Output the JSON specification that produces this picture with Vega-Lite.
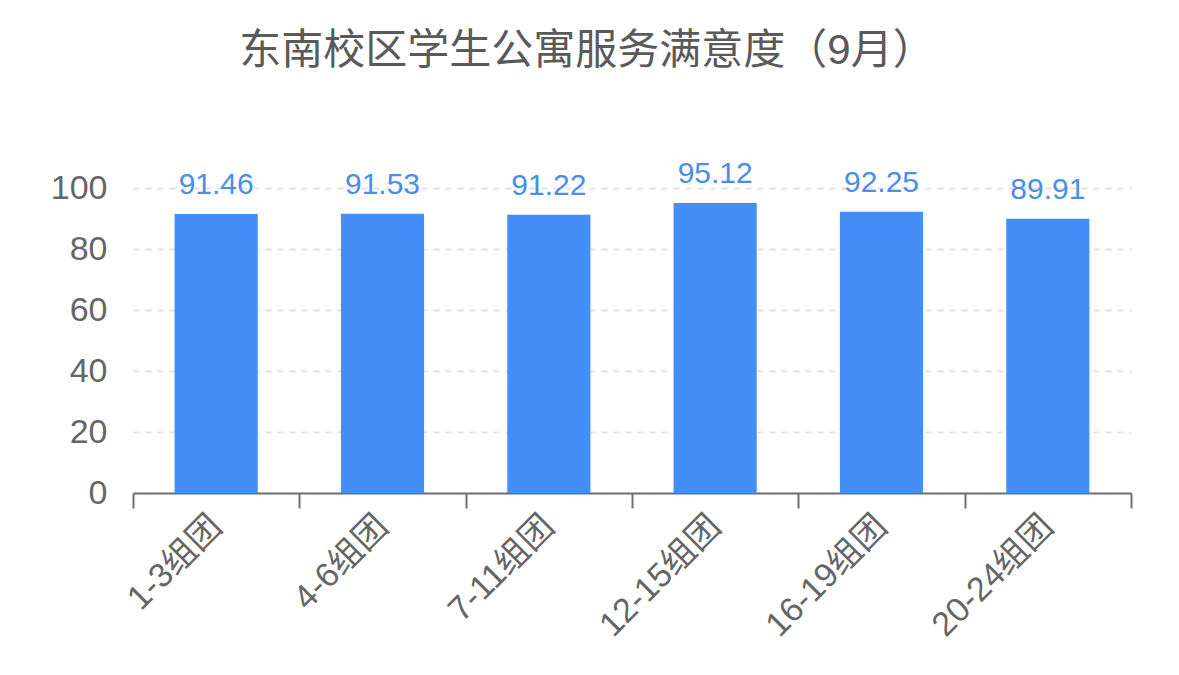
{
  "$schema": "https://vega.github.io/schema/vega-lite/v6.json",
  "autosize": {"type": "none"},
  "padding": {"left": 133, "top": 188, "right": 48, "bottom": 182},
  "width": 998,
  "height": 305,
  "background": "white",
  "title": {
    "text": "东南校区学生公寓服务满意度（9月）",
    "fontSize": 42,
    "fontWeight": "normal",
    "color": "#5a5a5a",
    "font": "Liberation Sans, Noto Sans CJK SC",
    "anchor": "middle",
    "frame": "group",
    "dx": -45,
    "offset": 86
  },
  "data": {
    "values": [
      {"group": "1-3组团", "score": 91.46},
      {"group": "4-6组团", "score": 91.53},
      {"group": "7-11组团", "score": 91.22},
      {"group": "12-15组团", "score": 95.12},
      {"group": "16-19组团", "score": 92.25},
      {"group": "20-24组团", "score": 89.91}
    ]
  },
  "encoding": {
    "x": {
      "field": "group",
      "type": "nominal",
      "sort": null,
      "title": null,
      "scale": {"paddingInner": 0, "paddingOuter": 0},
      "axis": {
        "tickBand": "extent",
        "domainColor": "#6e7079",
        "domainWidth": 2,
        "tickColor": "#6e7079",
        "tickWidth": 2,
        "tickSize": 15,
        "labelAngle": -45,
        "labelAlign": "right",
        "labelBaseline": "middle",
        "labelPadding": 13,
        "labelFontSize": 34,
        "labelColor": "#666666",
        "labelFont": "Liberation Sans, Noto Sans CJK SC",
        "grid": false
      }
    },
    "y": {
      "field": "score",
      "type": "quantitative",
      "title": null,
      "scale": {"domain": [0, 100], "nice": false},
      "axis": {
        "values": [0, 20, 40, 60, 80, 100],
        "domain": false,
        "ticks": false,
        "labelPadding": 26,
        "labelFontSize": 34,
        "labelColor": "#666666",
        "labelFont": "Liberation Sans",
        "grid": true,
        "gridColor": "#e3e3e3",
        "gridWidth": 2,
        "gridDash": [6, 6]
      }
    }
  },
  "layer": [
    {
      "mark": {"type": "bar", "color": "#448ef7", "width": {"band": 0.5}}
    },
    {
      "mark": {
        "type": "text",
        "color": "#4a8ee8",
        "fontSize": 30,
        "font": "Liberation Sans",
        "baseline": "alphabetic",
        "dy": -20
      },
      "encoding": {"text": {"field": "score", "type": "quantitative", "format": ".2f"}}
    }
  ],
  "config": {"view": {"stroke": null}}
}
